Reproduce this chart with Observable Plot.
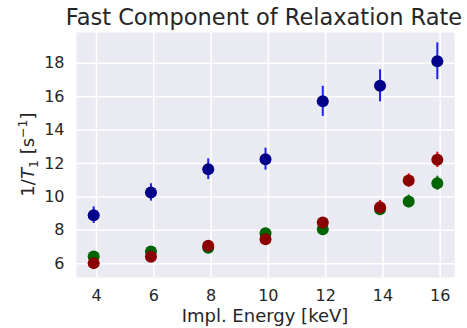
<!DOCTYPE html>
<html>
<head>
<meta charset="utf-8">
<script src="https://cdn.jsdelivr.net/npm/d3@7"></script>
<script src="https://cdn.jsdelivr.net/npm/@observablehq/plot@0.6"></script>
<style>
  html, body { margin: 0; padding: 0; background: white; }
  #wrap { width: 467px; height: 328px; position: relative; font-family: "DejaVu Sans", sans-serif; color: #262626; }
  #titlebox { position: relative; height: 32px; width: 467px; }
  #title { position: absolute; left: 264px; top: 6px; transform: translateX(-50%);
           font-size: 22.5px; line-height: 22px; white-space: nowrap; }
</style>
</head>
<body>
<div id="wrap">
  <div id="titlebox"><div id="title">Fast Component of Relaxation Rate</div></div>
  <div id="chart"></div>
</div>
<script>
// Implantation energy (keV) — points sit slightly left of the tick values
const energyBlue = [3.9, 5.9, 7.9, 9.9, 11.9, 13.9, 15.9];
const rateBlue   = [8.91, 10.27, 11.66, 12.26, 15.72, 16.65, 18.12];
const errBlue    = [0.50, 0.52, 0.62, 0.66, 0.90, 0.96, 1.10];

const energyGreen = [3.9, 5.9, 7.9, 9.9, 11.9, 13.9, 14.9, 15.9];
const rateGreen   = [6.44, 6.74, 6.96, 7.83, 8.07, 9.27, 9.73, 10.82];
const errGreen    = [0.12, 0.12, 0.15, 0.15, 0.18, 0.25, 0.38, 0.42];

const energyRed = [3.9, 5.9, 7.9, 9.9, 11.9, 13.9, 14.9, 15.9];
const rateRed   = [6.04, 6.42, 7.08, 7.47, 8.47, 9.39, 10.98, 12.22];
const errRed    = [0.12, 0.12, 0.14, 0.15, 0.20, 0.40, 0.40, 0.46];

const xTicks = [4, 6, 8, 10, 12, 14, 16];
const yTicks = [6, 8, 10, 12, 14, 16, 18];

const toRows = (xs, ys, es) => xs.map((x, i) => ({x, y: ys[i], e: es[i]}));
const blue = toRows(energyBlue, rateBlue, errBlue);
const green = toRows(energyGreen, rateGreen, errGreen);
const red = toRows(energyRed, rateRed, errRed);

const series = (data, errColor, dotColor) => [
  Plot.ruleX(data, {x: "x", y1: d => d.y - d.e, y2: d => d.y + d.e, stroke: errColor, strokeWidth: 2}),
  Plot.dot(data, {x: "x", y: "y", r: 6, fill: dotColor, stroke: "none"})
];

const chart = Plot.plot({
  width: 467,
  height: 296,
  marginLeft: 76,
  marginRight: 13,
  marginTop: 0,
  marginBottom: 51,
  style: {fontFamily: "DejaVu Sans, sans-serif", color: "#262626", background: "white", overflow: "visible"},
  x: {domain: [3.3, 16.5]},
  y: {domain: [5.18, 19.84]},
  marks: [
    Plot.frame({fill: "#eaeaf2", stroke: "none"}),
    Plot.gridX(xTicks, {stroke: "white", strokeOpacity: 1, strokeWidth: 1.5}),
    Plot.gridY(yTicks, {stroke: "white", strokeOpacity: 1, strokeWidth: 1.5}),
    Plot.axisX(xTicks, {tickSize: 0, tickPadding: 12, fontSize: 16, label: null, fill: "#262626"}),
    Plot.axisY(yTicks, {tickSize: 0, tickPadding: 12, fontSize: 16, label: null, fill: "#262626"}),
    ...series(blue, "#2020ff", "#00008b"),
    ...series(green, "#008000", "#006400"),
    ...series(red, "#ff0000", "#8b0000")
  ]
});

document.getElementById("chart").appendChild(chart);

const svg = d3.select(chart);
// x-axis label
svg.append("text")
  .attr("x", 265).attr("y", 290)
  .attr("text-anchor", "middle")
  .attr("font-size", 18)
  .attr("fill", "#262626")
  .attr("font-family", "DejaVu Sans, sans-serif")
  .text("Impl. Energy [keV]");

// y-axis label with italic T, subscript and superscript
const yl = svg.append("text")
  .attr("transform", "translate(34,122.5) rotate(-90)")
  .attr("text-anchor", "middle")
  .attr("font-size", 18)
  .attr("fill", "#262626")
  .attr("font-family", "DejaVu Sans, sans-serif");
yl.append("tspan").text("1/");
yl.append("tspan").attr("font-style", "italic").text("T");
yl.append("tspan").attr("font-size", 12.6).attr("dy", 4).text("1");
yl.append("tspan").attr("dy", -4).text(" [s");
yl.append("tspan").attr("font-size", 12.6).attr("dy", -7).text("\u22121");
yl.append("tspan").attr("dy", 7).text("]");
</script>
</body>
</html>
